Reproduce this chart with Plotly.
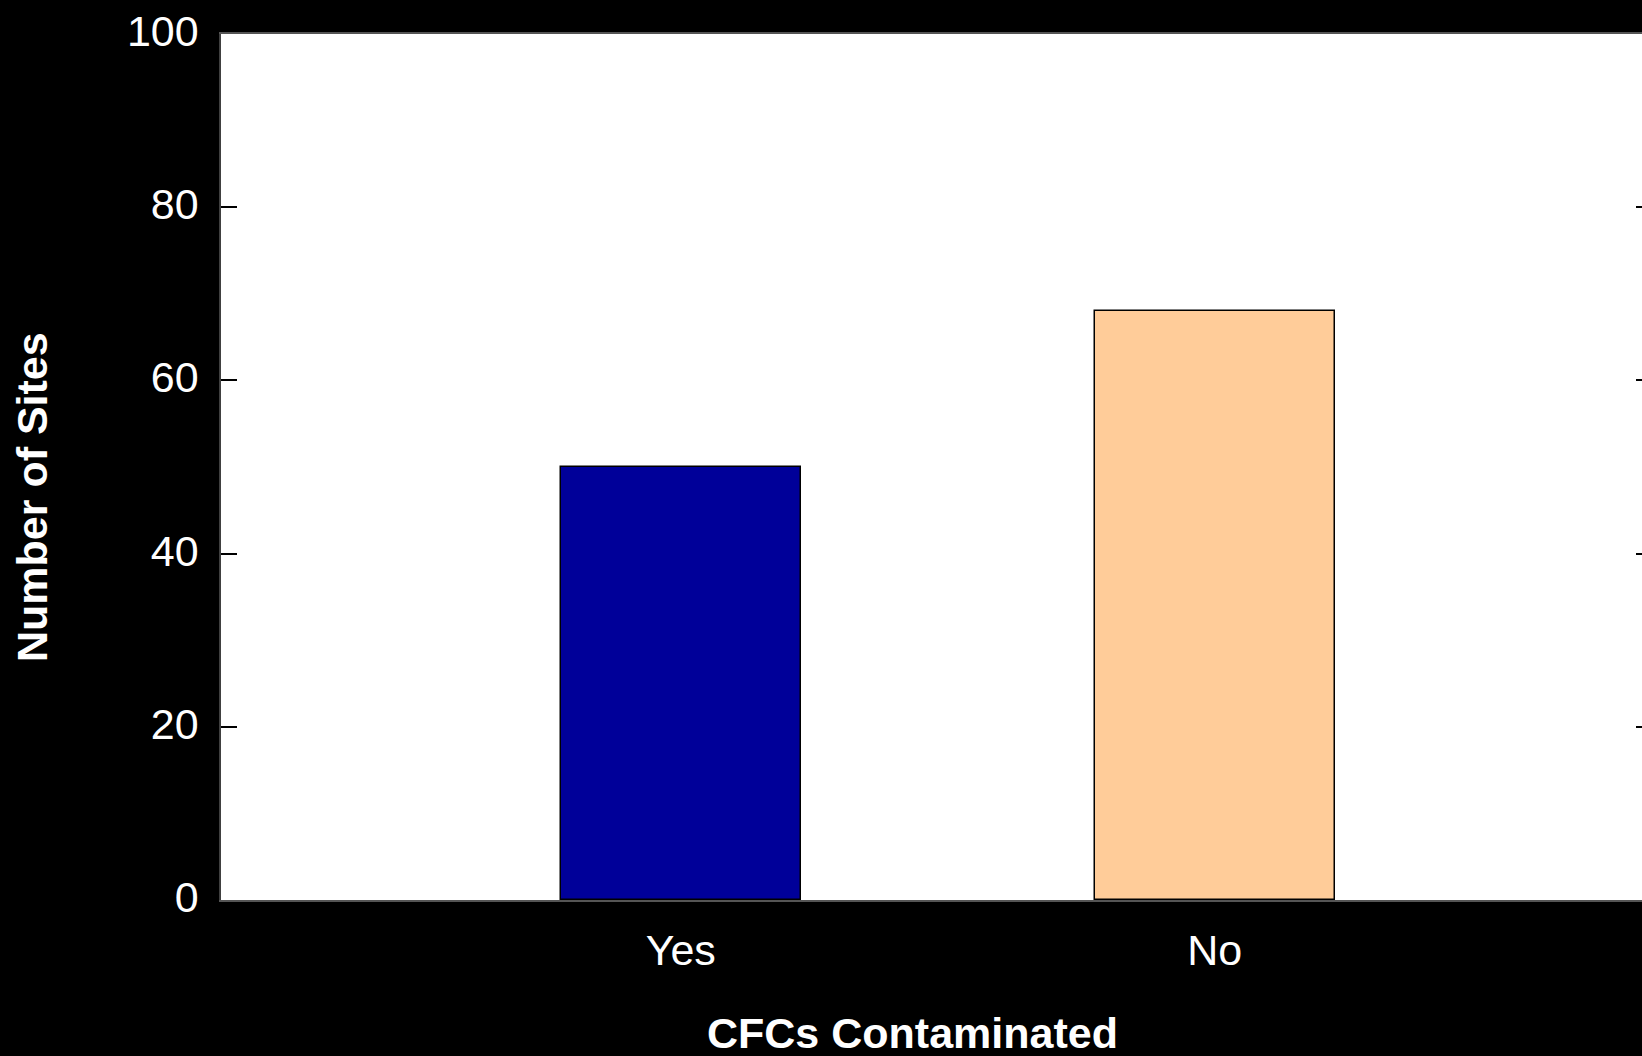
import plotly.graph_objects as go

# Site counts by CFC contamination status
categories = ["Yes", "No"]
site_counts = [50, 68]
bar_colors = ["#000099", "#FFCC99"]
y_ticks = [0, 20, 40, 60, 80, 100]

fig = go.Figure()

fig.add_trace(go.Bar(
    x=categories,
    y=site_counts,
    width=0.45,
    marker=dict(color=bar_colors, line=dict(color="black", width=1.5)),
    showlegend=False,
    hoverinfo="x+y",
))

# Invisible trace on a right-hand axis that carries the mirrored tick marks
fig.add_trace(go.Scatter(
    x=categories, y=site_counts, yaxis="y2",
    mode="markers", marker=dict(opacity=0), showlegend=False, hoverinfo="skip",
))

tick_font = dict(family="Liberation Sans, Arial, sans-serif", size=43, color="white")
title_font = dict(family="Liberation Sans, Arial, sans-serif", size=43, color="white")

fig.update_layout(
    width=1642,
    height=1056,
    paper_bgcolor="black",
    plot_bgcolor="white",
    margin=dict(l=221, r=0, t=34, b=156),
    bargap=0,
    xaxis=dict(
        type="category",
        range=[-0.861, 1.80],
        showline=True,
        linecolor="#555555",
        linewidth=2,
        mirror=True,
        ticks="",
        showgrid=False,
        zeroline=False,
        tickfont=tick_font,
        ticklabelstandoff=11,
    ),
    yaxis=dict(
        range=[0, 100],
        tickvals=y_ticks,
        ticktext=[str(v) for v in y_ticks],
        ticks="inside",
        ticklen=16,
        tickwidth=2,
        tickcolor="black",
        showline=True,
        linecolor="#404040",
        linewidth=1.5,
        showgrid=False,
        zeroline=False,
        tickfont=tick_font,
        ticklabelstandoff=12,
        ticklabelshift=-3,
    ),
    yaxis2=dict(
        overlaying="y",
        side="right",
        range=[0, 100],
        tickvals=y_ticks,
        ticks="inside",
        ticklen=6,
        tickwidth=2,
        tickcolor="black",
        showticklabels=False,
        showline=False,
        showgrid=False,
        zeroline=False,
    ),
    annotations=[
        dict(
            text="<b>CFCs Contaminated</b>",
            xref="paper", yref="paper",
            x=0.4863, y=-0.154,
            xanchor="center", yanchor="middle",
            showarrow=False,
            font=title_font,
        ),
        dict(
            text="<b>Number of Sites</b>",
            xref="paper", yref="paper",
            x=-0.1325, y=0.465,
            xanchor="center", yanchor="middle",
            textangle=-90,
            showarrow=False,
            font=title_font,
        ),
    ],
)

fig.write_html("out.html")
